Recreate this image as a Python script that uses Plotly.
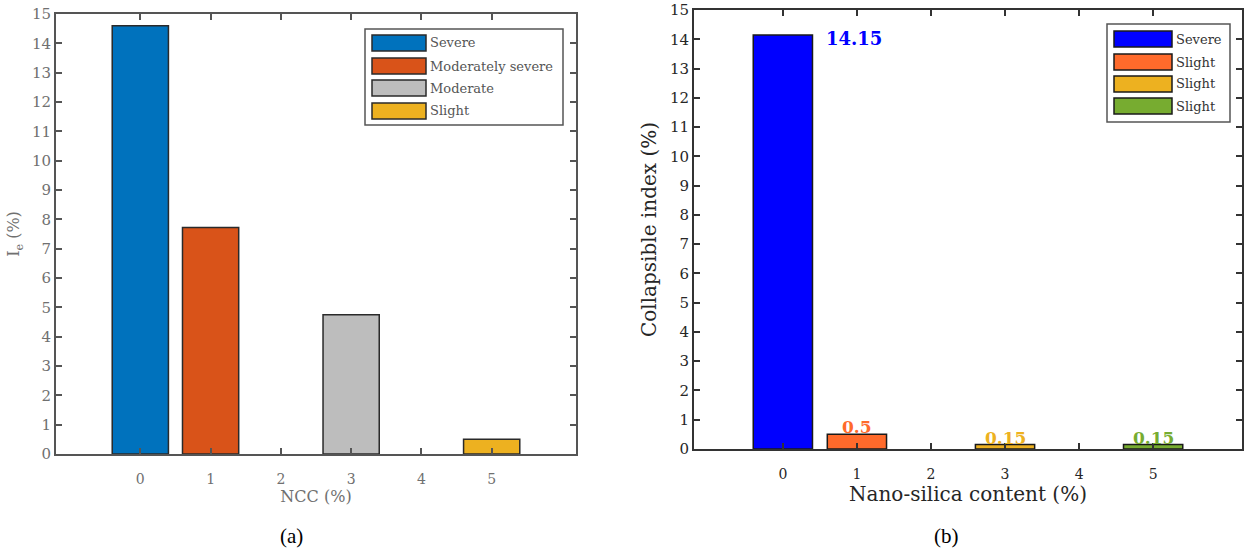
import plotly.graph_objects as go

W, H = 1248, 550

# ---------------- data ----------------
cats = [0, 1, 2, 3, 4, 5]
tick_labels = ["0", "1", "2", "3", "4", "5"]

# panel (a)
a_x = [0, 1, 3, 5]
a_vals = [14.6, 7.72, 4.75, 0.5]
a_names = ["Severe", "Moderately severe", "Moderate", "Slight"]
a_colors = ["#0072BD", "#D95319", "#BDBDBD", "#EDB120"]

# panel (b)
b_x = [0, 1, 3, 5]
b_vals = [14.15, 0.5, 0.15, 0.15]
b_names = ["Severe", "Slight", "Slight", "Slight"]
b_colors = ["#0000FF", "#FF6A2B", "#EDB120", "#77AC30"]
b_labels = ["14.15", "0.5", "0.15", "0.15"]

FONT = "DejaVu Serif"

def px_x(p):
    return p / W

def px_y(p):
    return 1 - p / H

fig = go.Figure()

for xv, v, n, c in zip(a_x, a_vals, a_names, a_colors):
    fig.add_trace(go.Bar(x=[xv], y=[v], name=n, width=0.8,
                         marker=dict(color=c, line=dict(color="#2a2a2a", width=1.5)),
                         xaxis="x", yaxis="y", showlegend=False))
for xv, v, n, c in zip(b_x, b_vals, b_names, b_colors):
    fig.add_trace(go.Bar(x=[xv], y=[v], name=n, width=0.8,
                         marker=dict(color=c, line=dict(color="#1a1a1a", width=1.5)),
                         xaxis="x2", yaxis="y2", showlegend=False))

def xaxis_cfg(dom, col, title, tsize, tcol, anchor, tstand):
    return dict(domain=dom, range=[-1.2, 6.2], tickmode="array", tickvals=cats,
                ticktext=tick_labels, ticks="inside", ticklen=6, tickwidth=2,
                tickcolor=col, showline=True, linecolor=col, linewidth=2,
                mirror="ticks", showgrid=False, zeroline=False, anchor=anchor,
                automargin=False, ticklabelstandoff=11,
                tickfont=dict(family=FONT, size=14, color=tcol),
                title=dict(text=title, font=dict(family=FONT, size=tsize, color=tcol), standoff=tstand),
                fixedrange=True)

def yaxis_cfg(dom, col, title, tsize, tcol, anchor):
    return dict(domain=dom, range=[0, 15], tickmode="array", tickvals=list(range(16)),
                ticks="inside", ticklen=6, tickwidth=2, tickcolor=col,
                showline=True, linecolor=col, linewidth=2, mirror="ticks",
                showgrid=False, zeroline=False, anchor=anchor, automargin=False,
                tickfont=dict(family=FONT, size=15, color=tcol),
                title=dict(text=title, font=dict(family=FONT, size=tsize, color=tcol), standoff=8),
                fixedrange=True)

fig.update_layout(
    width=W, height=H,
    margin=dict(l=0, r=0, t=0, b=0, autoexpand=False),
    paper_bgcolor="white", plot_bgcolor="white",
    barmode="overlay",
    showlegend=False,
    xaxis=xaxis_cfg([px_x(56), px_x(576)], "#555555", "NCC (%)", 16, "#707070", "y", 1),
    yaxis=yaxis_cfg([px_y(454), px_y(14)], "#555555", "I<sub>e</sub> (%)", 16, "#707070", "x"),
    xaxis2=xaxis_cfg([px_x(694), px_x(1242)], "#333333", "Nano-silica content (%)", 20, "#262626", "y2", 5),
    yaxis2=yaxis_cfg([px_y(449), px_y(10)], "#333333", "Collapsible index (%)", 20, "#262626", "x2"),
)

annotations = []
shapes = []

# value labels on panel (b)
for i, (xv, v, lab, c) in enumerate(zip(b_x, b_vals, b_labels, b_colors)):
    if i == 0:
        annotations.append(dict(x=xv + 0.55, y=v, xref="x2", yref="y2", text=f"<b>{lab}</b>",
                                showarrow=False, xanchor="left", yanchor="middle", yshift=-4,
                                font=dict(family=FONT, size=18, color=c)))
    else:
        annotations.append(dict(x=xv, y=v, xref="x2", yref="y2", text=f"<b>{lab}</b>",
                                showarrow=False, xanchor="center", yanchor="middle", yshift=7,
                                font=dict(family=FONT, size=17, color=c)))

# custom legends (MATLAB style wide swatches)
def add_legend(x0, y0, x1, y1, sw_x0, sw_x1, centers, names, colors, tcol, edge):
    shapes.append(dict(type="rect", xref="paper", yref="paper",
                       x0=px_x(x0), x1=px_x(x1), y0=px_y(y1), y1=px_y(y0),
                       line=dict(color="#555555", width=1.5), fillcolor="white", layer="above"))
    for cy, n, c in zip(centers, names, colors):
        shapes.append(dict(type="rect", xref="paper", yref="paper",
                           x0=px_x(sw_x0), x1=px_x(sw_x1), y0=px_y(cy + 8), y1=px_y(cy - 8),
                           line=dict(color=edge, width=1.5), fillcolor=c, layer="above"))
        annotations.append(dict(x=px_x(sw_x1 + 2), y=px_y(cy), xref="paper", yref="paper",
                                text=n, showarrow=False, xanchor="left", yanchor="middle",
                                font=dict(family=FONT, size=13, color=tcol)))

add_legend(365, 29, 563, 125, 372, 426, [43, 66, 88, 111], a_names, a_colors, "#555555", "#2a2a2a")
add_legend(1107, 24, 1230, 122, 1114, 1172, [39, 62, 84, 106], b_names, b_colors, "#333333", "#1a1a1a")

# captions
annotations.append(dict(x=px_x(291), y=px_y(536), xref="paper", yref="paper", text="(a)",
                        showarrow=False, xanchor="center", yanchor="middle",
                        font=dict(family="Liberation Serif", size=21, color="black")))
annotations.append(dict(x=px_x(946), y=px_y(536), xref="paper", yref="paper", text="(b)",
                        showarrow=False, xanchor="center", yanchor="middle",
                        font=dict(family="Liberation Serif", size=21, color="black")))

fig.update_layout(annotations=annotations, shapes=shapes)

fig.write_html("out.html")
